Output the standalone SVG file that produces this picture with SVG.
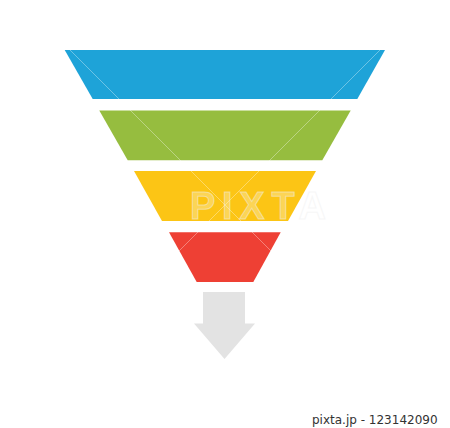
<svg xmlns="http://www.w3.org/2000/svg" width="450" height="428" viewBox="0 0 450 428">
<style>
.wm{stroke:#ffffff;stroke-opacity:0.35;stroke-width:1;fill:none}
.foot{font-family:"DejaVu Sans","Liberation Sans",sans-serif;font-size:12px;fill:#333333}
.logo{font-family:"Liberation Sans",sans-serif;font-weight:bold;font-size:38px;fill:#ffffff;fill-opacity:0.3;stroke:#eeeeee;stroke-opacity:0.5;stroke-width:1}
</style>
<rect width="450" height="428" fill="#ffffff"/>
<g id="level1"><polygon points="64.7,50 385,50 357.3,99 92.7,99" fill="#1ea3d8"/></g>
<g id="level2"><polygon points="99.3,110.5 350.7,110.5 322.3,160.3 127.7,160.3" fill="#96bd3f"/></g>
<g id="level3"><polygon points="134,171 316,171 288,221 162,221" fill="#fcc515"/></g>
<g id="level4"><polygon points="169,232.3 280.7,232.3 253.3,282 196.7,282" fill="#ee4034"/></g>
<g id="arrow"><polygon points="203,292 245,292 245,323.5 255,323.5 224.5,359 194,323.5 203,323.5" fill="#e3e3e3"/></g>
<g id="watermark">
<line class="wm" x1="20" y1="0" x2="430" y2="410"/>
<line class="wm" x1="430" y1="0" x2="20" y2="410"/>
<text class="logo" x="190" y="219" textLength="136" lengthAdjust="spacing">PIXTA</text>
</g>
<text class="foot" x="312" y="424">pixta.jp - 123142090</text>
</svg>
